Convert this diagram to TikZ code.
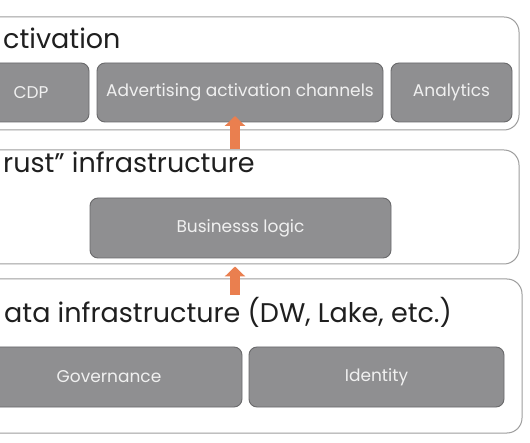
\documentclass[tikz,border=0pt]{standalone}
\usepackage{fontspec}
\setmainfont{Poppins}
\usetikzlibrary{arrows.meta}
\definecolor{boxgray}{HTML}{8F8F91}
\definecolor{boxedge}{HTML}{6A6A6C}
\definecolor{layeredge}{HTML}{9E9E9E}
\definecolor{uporange}{HTML}{EA7F4F}
\begin{document}
\begin{tikzpicture}[x=1pt, y=-1pt,
  layer/.style={draw=layeredge, line width=1pt, rounded corners=15pt, fill=white, inner sep=0pt},
  blk/.style={draw=boxedge, line width=0.9pt, rounded corners=8pt, fill=boxgray, text=white!94!black,
    inner sep=0pt, minimum height=59pt, font=\fontsize{17}{20}\selectfont},
  ttl/.style={anchor=base west, inner sep=0pt, text=black!88, font=\fontsize{27}{30}\selectfont},
  up/.style={draw=uporange, line width=10pt, -{Triangle[width=20pt, length=10pt]}, uporange}]
\useasboundingbox (0,0) rectangle (530,443);
\clip (0,0) rectangle (530,443);
\fill[white] (0,0) rectangle (530,443);
% layers
\node[layer, minimum width=554pt, minimum height=113pt] (act) at (242,73.5) {};
\node[layer, minimum width=554pt, minimum height=114pt] (trust) at (242,207) {};
\node[layer, minimum width=557pt, minimum height=154pt] (data) at (243.5,356) {};
% titles
\node[ttl] (actT) at (3,49) {ctivation};
\node[ttl] (trustT) at (3,173) {rust'' infrastructure};
\node[ttl] (dataT) at (4,323) {ata infrastructure (DW, Lake, etc.)};
% blocks
\node[blk, minimum width=116pt] (cdp) at (31,92.5) {CDP};
\node[blk, minimum width=286pt] (adv) at (240,92.5) {Advertising activation channels};
\node[blk, minimum width=121pt] (ana) at (451.5,92.5) {Analytics};
\node[blk, minimum width=301pt, minimum height=60pt] (logic) at (240.5,228) {Businesss logic};
\node[blk, minimum width=266pt, minimum height=60pt] (gov) at (109,377) {Governance};
\node[blk, minimum width=255pt, minimum height=60pt] (ident) at (376.5,377) {Identity};
% arrows
\coordinate (tip1) at (235,116);
\coordinate (tail2) at (235,295);
\draw[up] (trust.north -| tip1) -- (tip1);
\draw[up] (tail2) -- ([yshift=-2pt]tail2 |- trust.south);
\end{tikzpicture}
\end{document}
